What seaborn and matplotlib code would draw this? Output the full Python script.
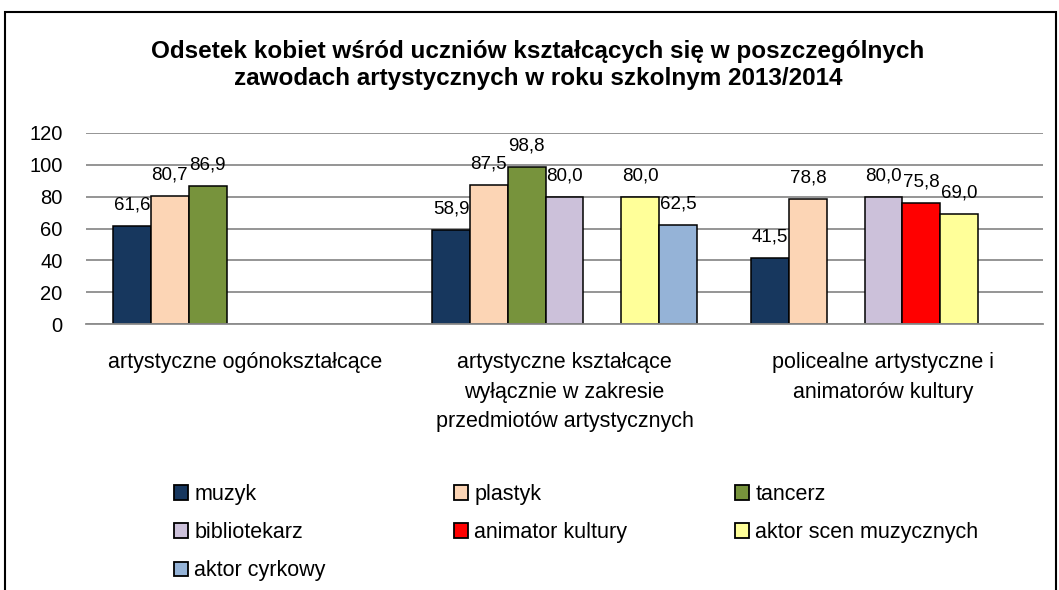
import pandas as pd
import matplotlib.pyplot as plt
import seaborn as sns
import numpy as np
from matplotlib.patches import Patch, Rectangle

# Dane
kategorie = ['artystyczne ogónokształcące',
             'artystyczne kształcące\nwyłącznie w zakresie\nprzedmiotów artystycznych',
             'policealne artystyczne i\nanimatorów kultury']
zawody = ['muzyk', 'plastyk', 'tancerz', 'bibliotekarz', 'animator kultury',
          'aktor scen muzycznych', 'aktor cyrkowy']
kolory = ['#17375E', '#FCD5B5', '#77933C', '#CCC1DA', '#FF0000', '#FFFF99', '#95B3D7']

muzyk = [61.6, 58.9, 41.5]
plastyk = [80.7, 87.5, 78.8]
tancerz = [86.9, 98.8, np.nan]
bibliotekarz = [np.nan, 80.0, 80.0]
animator = [np.nan, np.nan, 75.8]
aktor_scen = [np.nan, 80.0, 69.0]
aktor_cyrk = [np.nan, 62.5, np.nan]

wartosci = [muzyk, plastyk, tancerz, bibliotekarz, animator, aktor_scen, aktor_cyrk]
rows = []
for z, vals in zip(zawody, wartosci):
    for k, v in zip(kategorie, vals):
        rows.append({'kategoria': k, 'zawod': z, 'wartosc': v})
df = pd.DataFrame(rows).dropna()

sns.set_style('white')
plt.rcParams['font.family'] = ['Liberation Sans', 'DejaVu Sans']
plt.rcParams['text.color'] = 'black'
plt.rcParams['xtick.color'] = 'black'
plt.rcParams['ytick.color'] = 'black'
plt.rcParams['axes.labelcolor'] = 'black'

fig = plt.figure(figsize=(10.59, 5.90), dpi=100)
ax = fig.add_axes([86/1059, 1 - 324/590, (1043 - 86)/1059, (324 - 133)/590])

sns.barplot(data=df, x='kategoria', y='wartosc', hue='zawod', order=kategorie,
            hue_order=zawody, palette=kolory, saturation=1, width=0.83,
            edgecolor='black', linewidth=1.1, errorbar=None, legend=False, ax=ax)

# etykiety danych
for cont in ax.containers:
    etyk = [f"{b.get_height():.1f}".replace('.', ',') for b in cont]
    ax.bar_label(cont, labels=etyk, padding=9, fontsize=13.5, color='black')

ax.set_ylim(0, 120)
ax.set_yticks(range(0, 121, 20))
ax.set_xlim(-0.5, 2.5)
ax.yaxis.grid(True, color='#8C8C8C', linewidth=1.3)
ax.set_axisbelow(True)
for s in ['top', 'right', 'left']:
    ax.spines[s].set_visible(False)
ax.spines['bottom'].set_color('#8C8C8C')
ax.spines['bottom'].set_linewidth(1.3)
ax.set_xlabel('')
ax.set_ylabel('')
ax.tick_params(axis='y', length=0, pad=17, labelsize=14.5, labelcolor='black')
ax.tick_params(axis='x', which='major', length=0, pad=20, labelsize=15.5, labelcolor='black')
ax.set_xticks([-0.5, 0.5, 1.5, 2.5], minor=True)
ax.tick_params(axis='x', which='minor', length=6, width=1.3, color='#8C8C8C')
for t in ax.get_xticklabels():
    t.set_linespacing(1.55)
    t.set_verticalalignment('top')

# tytuł
fig.text(0.508, 1 - 65/590,
         'Odsetek kobiet wśród uczniów kształcących się w poszczególnych\n'
         'zawodach artystycznych w roku szkolnym 2013/2014',
         ha='center', va='center', fontsize=17.5, fontweight='bold', linespacing=1.25)

# legenda w trzech kolumnach
uchwyty = [Patch(facecolor=c, edgecolor='black', linewidth=1.3) for c in kolory]
kolumny = [[0, 3, 6], [1, 4], [2, 5]]
x_kol = [174, 454, 735]
for idx, xk in zip(kolumny, x_kol):
    fig.legend([uchwyty[i] for i in idx], [zawody[i] for i in idx],
               loc='upper left', bbox_to_anchor=(xk/1059, 1 - 484/590),
               frameon=False, fontsize=15.5, handlelength=0.65, handleheight=0.65,
               handletextpad=0.3, labelspacing=0.8, borderpad=0, borderaxespad=0)

# ramka wykresu
fig.patches.append(Rectangle((5/1059, -0.1), (1056 - 5)/1059, 1.1 - 12/590,
                             transform=fig.transFigure, fill=False,
                             edgecolor='black', linewidth=1.5))

plt.savefig('out.png', dpi=100)
